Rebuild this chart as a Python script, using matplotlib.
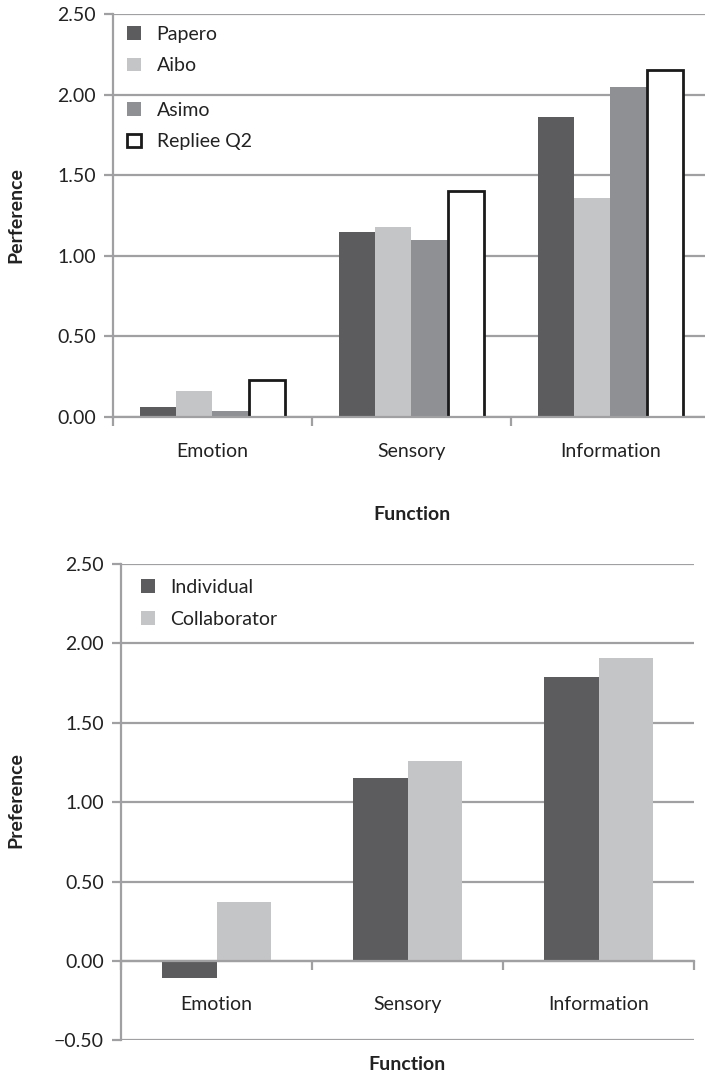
import matplotlib
matplotlib.use("Agg")
import matplotlib.pyplot as plt
from matplotlib.patches import Patch
import numpy as np

plt.rcParams['font.family'] = ['Lato', 'DejaVu Sans']

categories = ["Emotion", "Sensory", "Information"]

# Top chart series
papero = [0.06, 1.15, 1.86]
aibo = [0.16, 1.18, 1.36]
asimo = [0.04, 1.10, 2.05]
repliee = [0.23, 1.40, 2.15]
top_series = ["Papero", "Aibo", "Asimo", "Repliee Q2"]

# Bottom chart series
individual = [-0.11, 1.15, 1.79]
collaborator = [0.37, 1.26, 1.91]
bottom_series = ["Individual", "Collaborator"]

top_yticks = [0.0, 0.5, 1.0, 1.5, 2.0, 2.5]
bottom_yticks = [-0.5, 0.0, 0.5, 1.0, 1.5, 2.0, 2.5]

C_DARK = "#5c5c5e"
C_LIGHT = "#c4c5c7"
C_MID = "#8f9093"
GRID = "#a0a0a2"
TXT = "#222222"
FS = 14

W, H = 705, 1074
fig = plt.figure(figsize=(W / 100, H / 100), dpi=100)


def fx(px):
    return px / W


def fy(py):
    return 1 - py / H


def style_axes(ax, yticks, ymin, ymax):
    ax.set_xlim(-0.5, 2.5)
    ax.set_ylim(ymin, ymax)
    ax.set_yticks(yticks)
    ax.set_yticklabels([("\u22120.50" if v < 0 else f"{v:.2f}") for v in yticks])
    for v in yticks:
        ax.axhline(v, color=GRID, lw=1.6, zorder=0.5)
    for s in ["top", "right"]:
        ax.spines[s].set_visible(False)
    ax.spines["left"].set_color(GRID)
    ax.spines["left"].set_linewidth(1.6)
    ax.spines["bottom"].set_color(GRID)
    ax.spines["bottom"].set_linewidth(1.6)
    ax.spines["bottom"].set_position(("data", 0))
    ax.tick_params(axis="y", length=6.5, width=1.6, color=GRID, pad=6,
                   labelsize=FS, labelcolor=TXT)
    ax.set_xticks(range(len(categories)))
    ax.set_xticklabels(categories)
    ax.set_xticks([-0.5, 0.5, 1.5, 2.5], minor=True)
    ax.tick_params(axis="x", which="minor", length=6.5, width=1.6, color=GRID,
                   direction="out")
    ax.set_facecolor("none")


# ---------------- top chart ----------------
ax1 = fig.add_axes([fx(113), fy(417), fx(710 - 113), (417 - 14) / H])
x = np.arange(len(categories))
bw = 0.1825
top_vals = [papero, aibo, asimo, repliee]
top_fc = [C_DARK, C_LIGHT, C_MID, "white"]
top_ec = ["none", "none", "none", "#1a1a1a"]
top_lw = [0, 0, 0, 2.0]
for i, vals in enumerate(top_vals):
    ax1.bar(x + (i - 1.5) * bw, vals, bw, color=top_fc[i], edgecolor=top_ec[i],
            linewidth=top_lw[i], zorder=2)
style_axes(ax1, top_yticks, 0, 2.5)
ax1.tick_params(axis="x", which="major", length=0, pad=19, labelsize=FS,
                labelcolor=TXT)

handles = [Patch(facecolor=top_fc[i], edgecolor=(top_ec[i] if top_ec[i] != "none" else top_fc[i]),
                 linewidth=(2.0 if i == 3 else 0)) for i in range(4)]
leg_kw = dict(frameon=False, fontsize=FS, handlelength=0.72, handleheight=0.72,
              handletextpad=0.8, labelspacing=0.75, borderpad=0, borderaxespad=0,
              labelcolor=TXT)
leg1 = ax1.legend(handles[:2], top_series[:2], loc="center left",
                  bbox_to_anchor=((127 - 113) / 597, 1 - (50 - 14) / 403), **leg_kw)
ax1.add_artist(leg1)
leg2 = ax1.legend(handles[2:], top_series[2:], loc="center left",
                  bbox_to_anchor=((127 - 113) / 597, 1 - (126 - 14) / 403), **leg_kw)

fig.text(fx(412), fy(515), "Function", ha="center", va="center", fontsize=FS,
         fontweight="bold", color=TXT)
fig.text(fx(16), fy(215), "Perference", ha="center", va="center", rotation=90,
         fontsize=FS, fontweight="bold", color=TXT)

# ---------------- bottom chart ----------------
ax2 = fig.add_axes([fx(121), fy(1040.4), fx(694 - 121), (1040.4 - 564) / H])
bw2 = 0.284
bot_vals = [individual, collaborator]
bot_fc = [C_DARK, C_LIGHT]
for i, vals in enumerate(bot_vals):
    ax2.bar(x + (i - 0.5) * bw2, vals, bw2, color=bot_fc[i], zorder=2)
style_axes(ax2, bottom_yticks, -0.5, 2.5)
ax2.tick_params(axis="x", which="major", length=0, pad=25, labelsize=FS,
                labelcolor=TXT)
h2 = [Patch(facecolor=c, edgecolor=c, linewidth=0) for c in bot_fc]
ax2.legend(h2, bottom_series, loc="center left",
           bbox_to_anchor=((141 - 121) / 573, 1 - (603.5 - 564) / 476.4), **leg_kw)

fig.text(fx(407), fy(1065), "Function", ha="center", va="center", fontsize=FS,
         fontweight="bold", color=TXT)
fig.text(fx(16), fy(800), "Preference", ha="center", va="center", rotation=90,
         fontsize=FS, fontweight="bold", color=TXT)

fig.savefig("out.png", dpi=100)
